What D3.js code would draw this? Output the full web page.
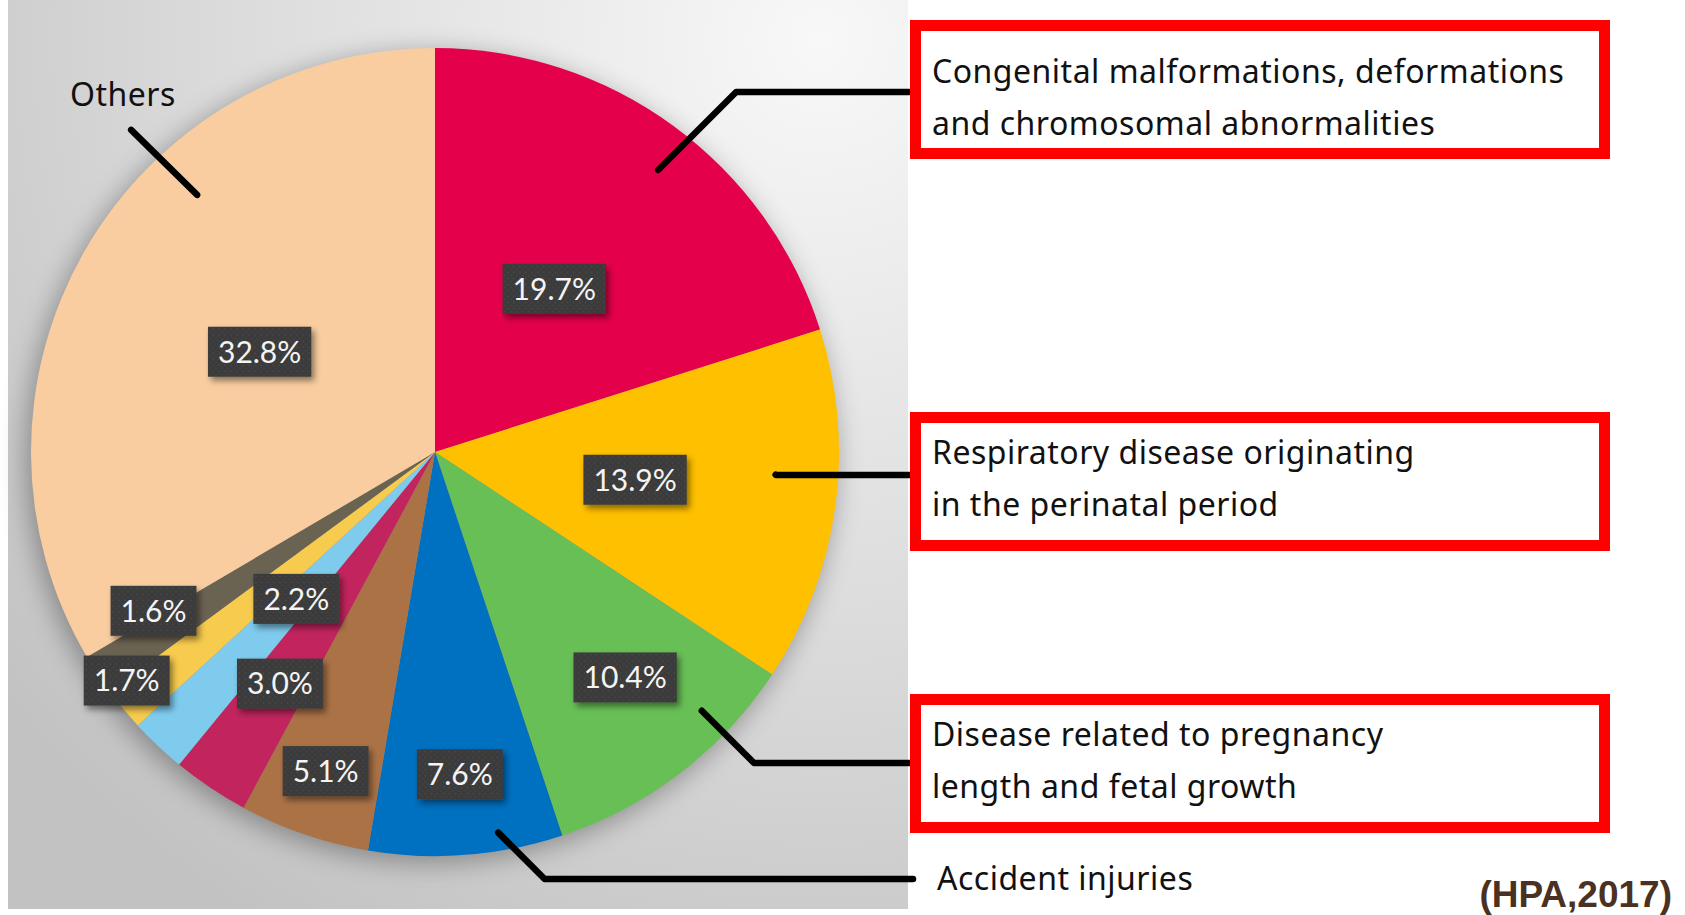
<!DOCTYPE html>
<html>
<head>
<meta charset="utf-8">
<script src="https://cdn.jsdelivr.net/npm/d3@7"></script>
<style>
  html, body { margin: 0; padding: 0; background: #fff; }
  svg { display: block; }
</style>
</head>
<body>
<div id="chart"></div>
<script>
// slices, clockwise from 12 o'clock
var causes = ['Congenital', 'Respiratory', 'Pregnancy length', 'Accident', 'Cause 5', 'Cause 6', 'Cause 7', 'Cause 8', 'Cause 9', 'Others'];
var shares = [19.7, 13.9, 10.4, 7.6, 5.1, 3.0, 2.2, 1.7, 1.6, 32.8];
var colors = ['#e4004b', '#ffc000', '#68bf56', '#0070c0', '#ab7246', '#c2245e', '#7ecbee', '#f7cb4d', '#6b6352', '#f9cda0'];

// where the % boxes sit: fraction along the slice angle, fraction of the radius
var labelAlong = [0.5, 0.5, 0.43, 0.5, 0.5, 0.5, 0.5, 0.97, 1.18, 0.5];
var labelRadius = [0.5, 0.5, 0.73, 0.8, 0.835, 0.69, 0.5, 0.95, 0.8, 0.5];

// callouts to the right
var callouts = [
    { slice: 0, along: 0.53, r: 0.89, lines: ['Congenital malformations, deformations', 'and chromosomal abnormalities'], boxTop: 20, boxed: true },
    { slice: 1, along: 0.42, r: 0.845, lines: ['Respiratory disease originating', 'in the perinatal period'], boxTop: 412, boxed: true },
    { slice: 2, along: 0.28, r: 0.92, lines: ['Disease related to pregnancy', 'length and fetal growth'], boxTop: 694, boxed: true },
    { slice: 3, along: 0.32, r: 0.955, lines: ['Accident injuries'], boxTop: null, boxed: false }
];
var lineY = [92, 475, 763, 879];
var textY = [83, 464, 746, 890];

var width = 1685, height = 915;
var cx = 435, cy = 452, radius = 404;
var labelFont = 'Noto Sans, Open Sans, sans-serif';

var svg = d3.select('#chart')
    .append('svg')
    .attr('width', width)
    .attr('height', height);

var defs = svg.append('defs');

var bg = defs.append('radialGradient')
    .attr('id', 'bgGrad')
    .attr('gradientUnits', 'userSpaceOnUse')
    .attr('cx', 820).attr('cy', 40).attr('r', 1050);
bg.append('stop').attr('offset', '0%').attr('stop-color', '#f8f8f8');
bg.append('stop').attr('offset', '55%').attr('stop-color', '#dcdcdc');
bg.append('stop').attr('offset', '100%').attr('stop-color', '#c2c2c2');

var pieShadow = defs.append('filter')
    .attr('id', 'pieShadow')
    .attr('x', '-20%').attr('y', '-20%').attr('width', '140%').attr('height', '140%');
pieShadow.append('feGaussianBlur').attr('in', 'SourceAlpha').attr('stdDeviation', 14);
pieShadow.append('feOffset').attr('dx', -4).attr('dy', 6).attr('result', 'blur');
pieShadow.append('feComponentTransfer').append('feFuncA').attr('type', 'linear').attr('slope', 0.35);

var boxShadow = defs.append('filter')
    .attr('id', 'boxShadow')
    .attr('x', '-20%').attr('y', '-30%').attr('width', '150%').attr('height', '170%');
boxShadow.append('feDropShadow')
    .attr('dx', 3).attr('dy', 4).attr('stdDeviation', 3)
    .attr('flood-color', '#000').attr('flood-opacity', 0.45);

var dots = defs.append('pattern')
    .attr('id', 'dots')
    .attr('width', 6).attr('height', 6)
    .attr('patternUnits', 'userSpaceOnUse');
dots.append('rect').attr('width', 6).attr('height', 6).attr('fill', '#3a3a3a');
dots.append('circle').attr('cx', 1.5).attr('cy', 1.5).attr('r', 0.9).attr('fill', '#4a4a4a');
dots.append('circle').attr('cx', 4.5).attr('cy', 4.5).attr('r', 0.9).attr('fill', '#444');

// grey backdrop behind the pie
svg.append('rect')
    .attr('x', 8).attr('y', 0)
    .attr('width', 900).attr('height', 909)
    .attr('fill', 'url(#bgGrad)');

var pie = d3.pie().sort(null).value(function(d) { return d; });
var arcs = pie(shares);
var arc = d3.arc().innerRadius(0).outerRadius(radius);

var g = svg.append('g').attr('transform', 'translate(' + cx + ',' + cy + ')');

g.append('circle')
    .attr('r', radius)
    .attr('fill', '#000')
    .attr('filter', 'url(#pieShadow)');

g.selectAll('path.slice')
    .data(arcs)
    .enter()
    .append('path')
    .attr('class', 'slice')
    .attr('d', arc)
    .attr('fill', function(d, i) { return colors[i]; });

function pointOn(a, frac, r) {
    var ang = a.startAngle + (a.endAngle - a.startAngle) * frac;
    return [Math.sin(ang) * radius * r, -Math.cos(ang) * radius * r];
}

// leader lines
var boxLeft = 910;
callouts.forEach(function(c, i) {
    var p = pointOn(arcs[c.slice], c.along, c.r);
    var sx = cx + p[0], sy = cy + p[1];
    var ty = lineY[i];
    var ex = sx + (ty - sy) * (ty < sy ? -1 : 1);
    svg.append('path')
        .attr('d', d3.line()([[sx, sy], [ex, ty], [c.boxed ? boxLeft + 2 : boxLeft + 3, ty]]))
        .attr('fill', 'none')
        .attr('stroke', '#000')
        .attr('stroke-width', 6.5)
        .attr('stroke-linecap', 'round')
        .attr('stroke-linejoin', 'round');
});

// Others leader
var op = pointOn(arcs[9], 0.645, 0.867);
svg.append('path')
    .attr('d', d3.line()([[cx + op[0], cy + op[1]], [cx + op[0] - 66, cy + op[1] - 65]]))
    .attr('stroke', '#000')
    .attr('stroke-width', 6.5)
    .attr('stroke-linecap', 'round');

svg.append('text')
    .attr('x', 70).attr('y', 106)
    .attr('font-family', labelFont)
    .attr('font-size', 32)
    .attr('letter-spacing', 0.5)
    .attr('fill', '#111')
    .text('Others');

// % label boxes
var labels = g.selectAll('g.lab')
    .data(arcs)
    .enter()
    .append('g')
    .attr('class', 'lab')
    .attr('transform', function(d, i) {
        var p = pointOn(d, labelAlong[i], labelRadius[i]);
        return 'translate(' + p[0] + ',' + p[1] + ')';
    });

labels.append('rect').attr('class', 'bx');
labels.append('text')
    .attr('text-anchor', 'middle')
    .attr('dy', '0.36em')
    .attr('font-family', 'Lato, Carlito, sans-serif')
    .attr('font-size', 30)
    .attr('fill', '#f4f4f4')
    .text(function(d) { return d.value.toFixed(1) + '%'; });

labels.each(function() {
    var el = d3.select(this);
    var w = el.select('text').node().getComputedTextLength() + 20;
    el.select('rect')
        .attr('x', -w / 2).attr('y', -25)
        .attr('width', w).attr('height', 50)
        .attr('fill', 'url(#dots)')
        .attr('filter', 'url(#boxShadow)');
});

// red boxes and callout text
var boxH = 139, boxW = 700, stroke = 11;
callouts.forEach(function(c, i) {
    if (c.boxed) {
        svg.append('rect')
            .attr('x', boxLeft + stroke / 2).attr('y', c.boxTop + stroke / 2)
            .attr('width', boxW - stroke).attr('height', boxH - stroke)
            .attr('fill', '#fff')
            .attr('stroke', '#ff0000')
            .attr('stroke-width', stroke);
    }
    var tx = c.boxed ? 932 : 937;
    var t = svg.append('text')
        .attr('x', tx)
        .attr('y', textY[i])
        .attr('font-family', labelFont)
        .attr('font-size', 32)
        .attr('letter-spacing', 0.5)
        .attr('fill', '#111');
    c.lines.forEach(function(line, j) {
        t.append('tspan')
            .attr('x', tx)
            .attr('dy', j === 0 ? 0 : 52)
            .text(line);
    });
});

svg.append('text')
    .attr('x', 1672).attr('y', 907)
    .attr('text-anchor', 'end')
    .attr('font-family', 'Liberation Sans, Arial, sans-serif')
    .attr('font-weight', 'bold')
    .attr('font-size', 37)
    .attr('fill', '#4b3121')
    .text('(HPA,2017)');
</script>
</body>
</html>
